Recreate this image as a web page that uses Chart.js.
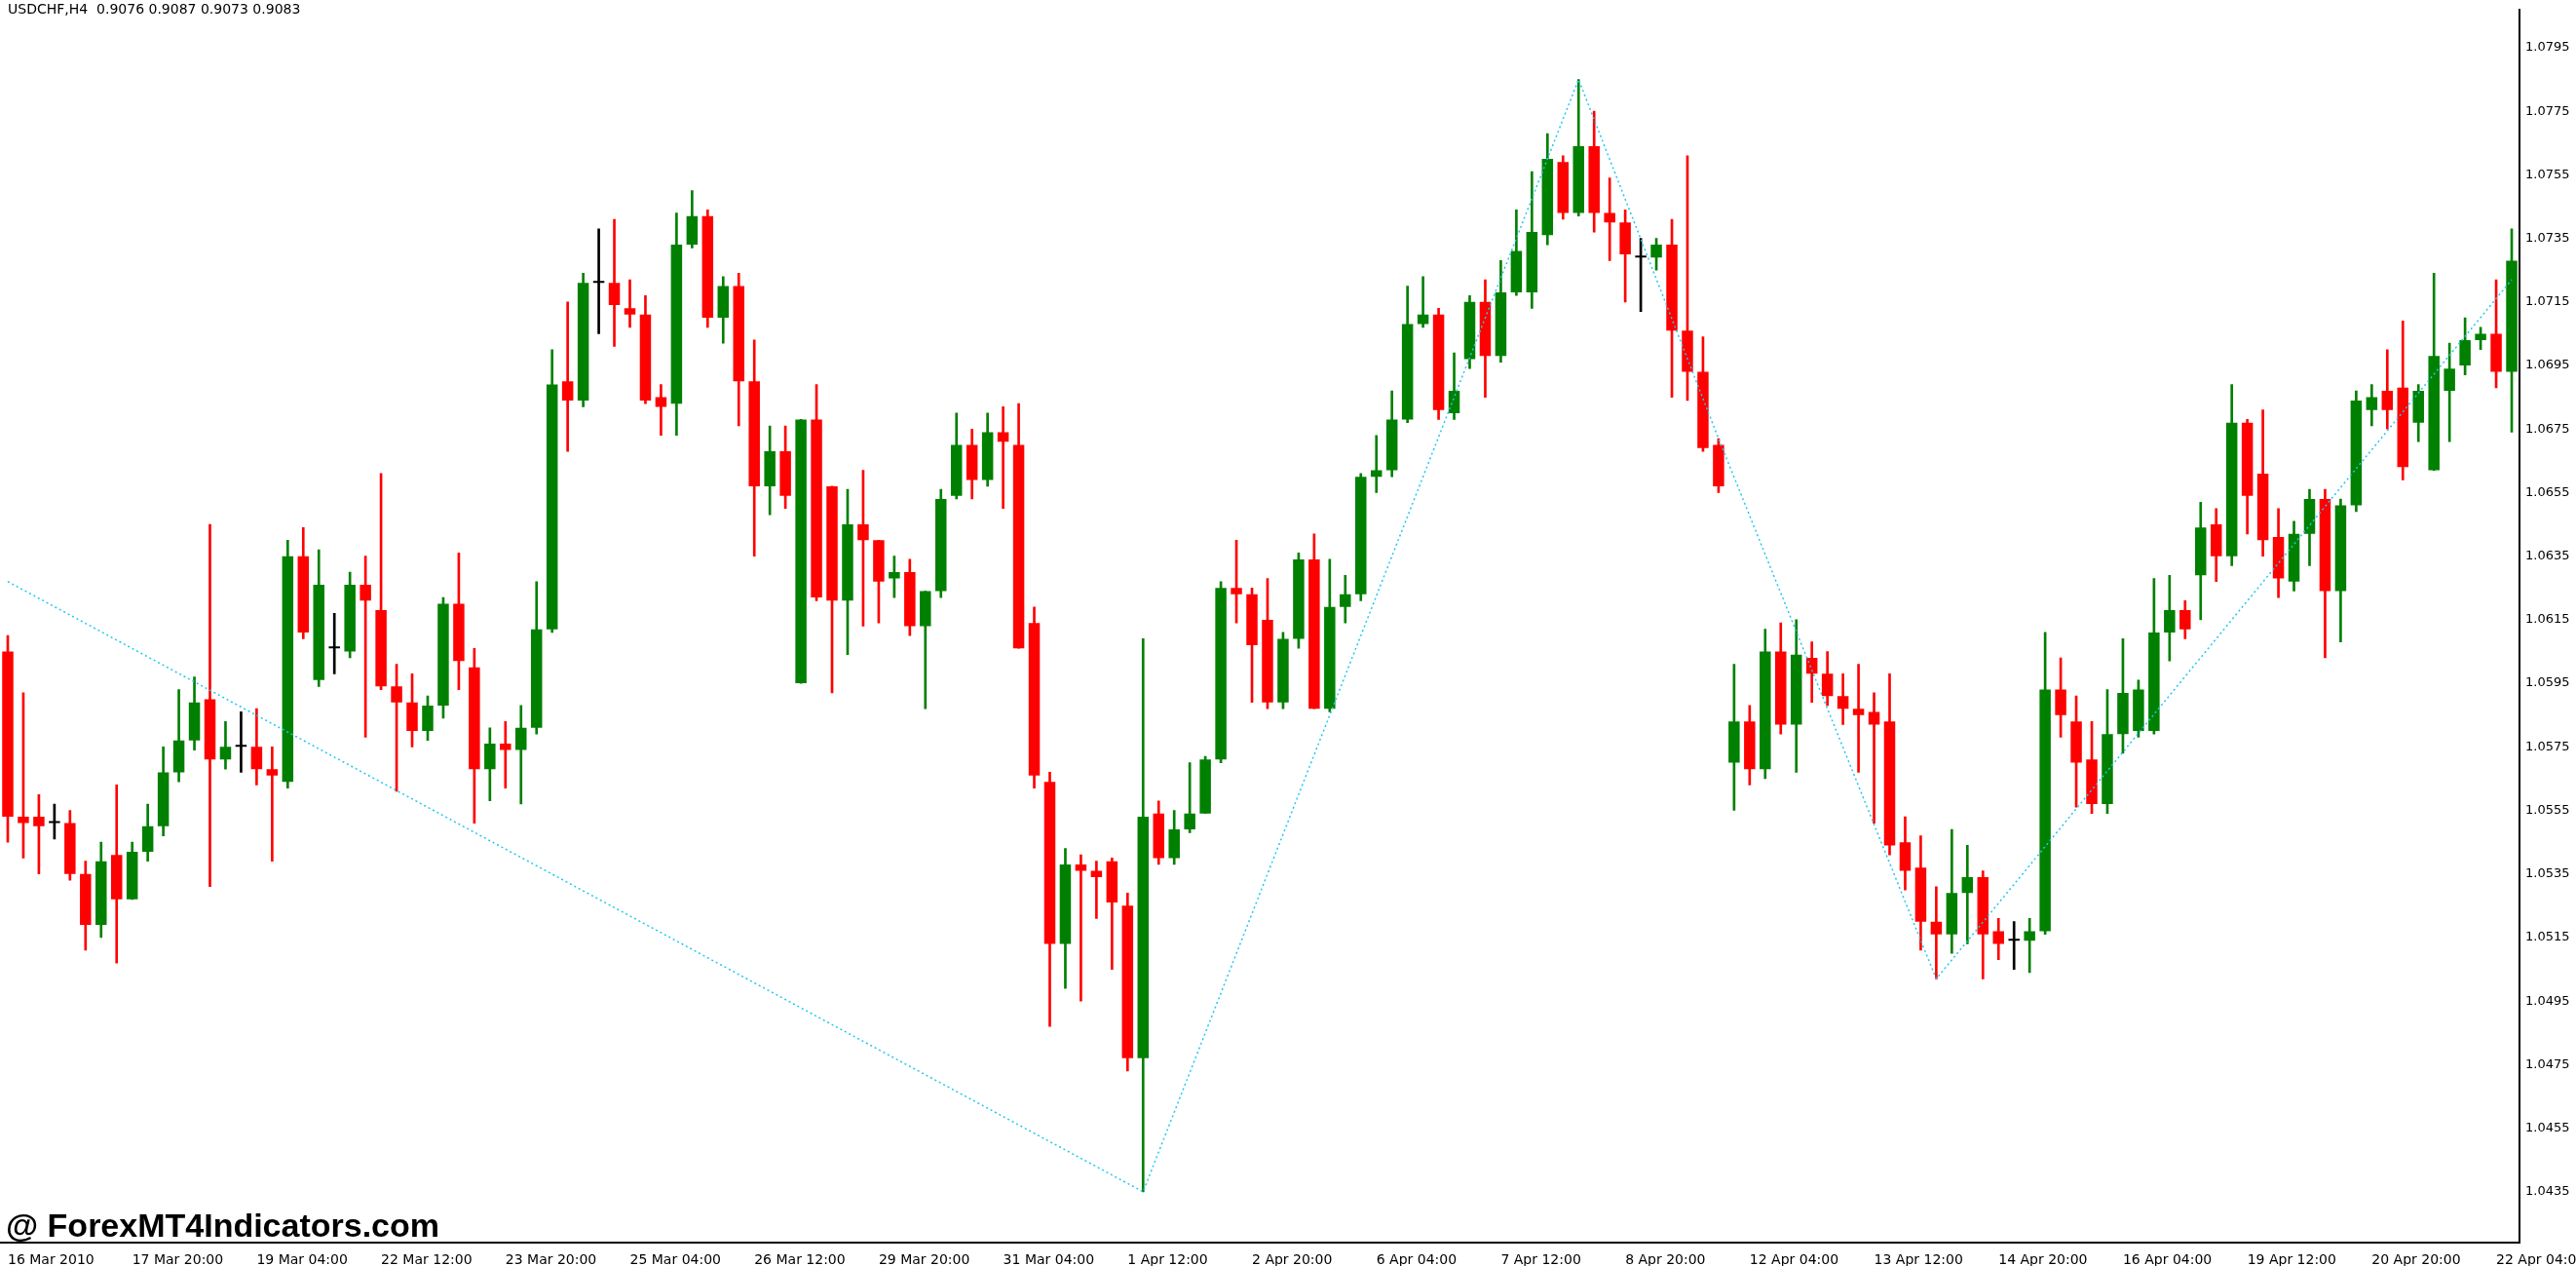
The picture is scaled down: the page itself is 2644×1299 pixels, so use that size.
<!DOCTYPE html>
<html><head><meta charset="utf-8">
<script src="https://cdn.jsdelivr.net/npm/chart.js@4/dist/chart.umd.min.js"></script>
<style>
html,body{margin:0;padding:0;background:#fff;overflow:hidden}
#wrap{position:relative;width:2644px;height:1299px}
#title{position:absolute;left:8px;top:1px;font:14px Tahoma,"DejaVu Sans",sans-serif;color:#000}
#mark{position:absolute;left:6px;top:1238px;font:bold 34px Arial,"Liberation Sans",sans-serif;color:#000}
</style></head><body>
<div id="wrap"><canvas id="c" width="2644" height="1299"></canvas>
<div id="title">USDCHF,H4&nbsp; 0.9076 0.9087 0.9073 0.9083</div>
<div id="mark">@ ForexMT4Indicators.com</div></div>
<script>
const opens=[1.0605,1.0553,1.0553,1.0551,1.0551,1.0535,1.0519,1.0541,1.0527,1.0542,1.0550,1.0567,1.0577,1.0590,1.0571,1.0575,1.0575,1.0568,1.0564,1.0635,1.0596,1.0606,1.0605,1.0626,1.0618,1.0594,1.0589,1.0580,1.0588,1.0620,1.0600,1.0568,1.0576,1.0574,1.0581,1.0612,1.0690,1.0684,1.0721,1.0721,1.0713,1.0711,1.0685,1.0683,1.0733,1.0742,1.0710,1.0720,1.0690,1.0657,1.0668,1.0595,1.0678,1.0657,1.0621,1.0645,1.0640,1.0628,1.0630,1.0613,1.0624,1.0654,1.0670,1.0659,1.0674,1.0670,1.0614,1.0564,1.0513,1.0538,1.0536,1.0539,1.0525,1.0477,1.0554,1.0540,1.0549,1.0554,1.0571,1.0625,1.0623,1.0615,1.0589,1.0609,1.0634,1.0587,1.0619,1.0623,1.0660,1.0662,1.0678,1.0708,1.0711,1.0680,1.0697,1.0715,1.0698,1.0718,1.0718,1.0736,1.0759,1.0743,1.0764,1.0743,1.0740,1.0729,1.0729,1.0733,1.0706,1.0693,1.0670,1.0570,1.0583,1.0568,1.0605,1.0582,1.0603,1.0598,1.0591,1.0587,1.0586,1.0583,1.0545,1.0537,1.0520,1.0516,1.0529,1.0534,1.0517,1.0514,1.0514,1.0517,1.0593,1.0583,1.0571,1.0557,1.0579,1.0580,1.0580,1.0611,1.0618,1.0629,1.0645,1.0635,1.0677,1.0661,1.0641,1.0627,1.0642,1.0653,1.0624,1.0651,1.0681,1.0687,1.0688,1.0677,1.0662,1.0687,1.0695,1.0703,1.0705,1.0693];
const highs=[1.0610,1.0592,1.0560,1.0557,1.0555,1.0539,1.0545,1.0563,1.0545,1.0557,1.0575,1.0593,1.0597,1.0645,1.0583,1.0586,1.0587,1.0575,1.0640,1.0644,1.0637,1.0617,1.0630,1.0635,1.0661,1.0601,1.0598,1.0591,1.0622,1.0636,1.0606,1.0581,1.0583,1.0588,1.0627,1.0700,1.0715,1.0724,1.0738,1.0741,1.0722,1.0717,1.0689,1.0743,1.0750,1.0744,1.0723,1.0724,1.0703,1.0676,1.0676,1.0678,1.0689,1.0657,1.0656,1.0662,1.0640,1.0635,1.0634,1.0624,1.0656,1.0680,1.0675,1.0680,1.0682,1.0683,1.0619,1.0567,1.0543,1.0541,1.0539,1.0540,1.0529,1.0609,1.0558,1.0555,1.0570,1.0572,1.0627,1.0640,1.0625,1.0628,1.0611,1.0636,1.0642,1.0634,1.0629,1.0661,1.0673,1.0687,1.0720,1.0723,1.0713,1.0699,1.0717,1.0722,1.0728,1.0744,1.0756,1.0768,1.0761,1.0785,1.0775,1.0754,1.0744,1.0735,1.0735,1.0741,1.0761,1.0704,1.0672,1.0601,1.0588,1.0612,1.0614,1.0615,1.0608,1.0605,1.0598,1.0601,1.0592,1.0598,1.0553,1.0547,1.0531,1.0549,1.0544,1.0536,1.0521,1.0520,1.0521,1.0611,1.0603,1.0591,1.0583,1.0593,1.0609,1.0596,1.0628,1.0629,1.0621,1.0652,1.0650,1.0689,1.0678,1.0681,1.0650,1.0646,1.0656,1.0656,1.0653,1.0687,1.0689,1.0700,1.0709,1.0689,1.0724,1.0702,1.0710,1.0707,1.0722,1.0738];
const lows=[1.0545,1.0540,1.0535,1.0546,1.0533,1.0511,1.0515,1.0507,1.0527,1.0539,1.0547,1.0564,1.0574,1.0531,1.0568,1.0567,1.0563,1.0539,1.0562,1.0609,1.0594,1.0598,1.0603,1.0578,1.0593,1.0561,1.0575,1.0577,1.0584,1.0593,1.0551,1.0558,1.0562,1.0557,1.0579,1.0611,1.0668,1.0682,1.0705,1.0701,1.0707,1.0683,1.0673,1.0673,1.0732,1.0707,1.0702,1.0676,1.0635,1.0648,1.0650,1.0595,1.0621,1.0592,1.0604,1.0613,1.0614,1.0622,1.0610,1.0587,1.0622,1.0653,1.0653,1.0657,1.0650,1.0606,1.0562,1.0487,1.0499,1.0495,1.0521,1.0505,1.0473,1.0435,1.0538,1.0538,1.0548,1.0554,1.0570,1.0614,1.0589,1.0587,1.0587,1.0606,1.0587,1.0586,1.0614,1.0621,1.0655,1.0660,1.0677,1.0707,1.0678,1.0678,1.0694,1.0685,1.0696,1.0717,1.0713,1.0733,1.0741,1.0742,1.0737,1.0728,1.0715,1.0712,1.0725,1.0685,1.0684,1.0668,1.0655,1.0555,1.0563,1.0565,1.0579,1.0567,1.0589,1.0588,1.0582,1.0567,1.0551,1.0541,1.0530,1.0511,1.0502,1.0510,1.0513,1.0502,1.0508,1.0505,1.0504,1.0516,1.0578,1.0556,1.0554,1.0554,1.0573,1.0578,1.0579,1.0602,1.0609,1.0615,1.0627,1.0632,1.0642,1.0635,1.0622,1.0624,1.0632,1.0603,1.0608,1.0649,1.0676,1.0675,1.0659,1.0671,1.0662,1.0671,1.0692,1.0700,1.0688,1.0674];
const closes=[1.0553,1.0551,1.0550,1.0551,1.0535,1.0519,1.0539,1.0527,1.0542,1.0550,1.0567,1.0577,1.0589,1.0571,1.0575,1.0575,1.0568,1.0566,1.0635,1.0611,1.0626,1.0606,1.0626,1.0621,1.0594,1.0589,1.0580,1.0588,1.0620,1.0602,1.0568,1.0576,1.0574,1.0581,1.0612,1.0689,1.0684,1.0721,1.0721,1.0714,1.0711,1.0684,1.0682,1.0733,1.0742,1.0710,1.0720,1.0690,1.0657,1.0668,1.0654,1.0678,1.0622,1.0621,1.0645,1.0640,1.0627,1.0630,1.0613,1.0624,1.0653,1.0670,1.0659,1.0674,1.0671,1.0606,1.0566,1.0513,1.0538,1.0536,1.0534,1.0526,1.0477,1.0553,1.0540,1.0549,1.0554,1.0571,1.0625,1.0623,1.0607,1.0589,1.0609,1.0634,1.0587,1.0619,1.0623,1.0660,1.0662,1.0678,1.0708,1.0711,1.0681,1.0687,1.0715,1.0698,1.0718,1.0731,1.0737,1.0760,1.0743,1.0764,1.0743,1.0740,1.0730,1.0729,1.0733,1.0706,1.0693,1.0669,1.0657,1.0583,1.0568,1.0605,1.0582,1.0604,1.0598,1.0591,1.0587,1.0585,1.0582,1.0544,1.0536,1.0520,1.0516,1.0529,1.0534,1.0516,1.0513,1.0514,1.0517,1.0593,1.0585,1.0570,1.0557,1.0579,1.0592,1.0593,1.0611,1.0618,1.0612,1.0644,1.0635,1.0677,1.0654,1.0640,1.0628,1.0642,1.0653,1.0624,1.0651,1.0684,1.0685,1.0681,1.0663,1.0687,1.0698,1.0694,1.0703,1.0705,1.0693,1.0728];
const tickLabels=["16 Mar 2010","17 Mar 20:00","19 Mar 04:00","22 Mar 12:00","23 Mar 20:00","25 Mar 04:00","26 Mar 12:00","29 Mar 20:00","31 Mar 04:00","1 Apr 12:00","2 Apr 20:00","6 Apr 04:00","7 Apr 12:00","8 Apr 20:00","12 Apr 04:00","13 Apr 12:00","14 Apr 20:00","16 Apr 04:00","19 Apr 12:00","20 Apr 20:00","22 Apr 04:00"];
const zigIdx=[0,73,101,110,124,161];
const zigVal=[1.0627,1.0435,1.0785,1.0672,1.0502,1.0722];
const yTicks=[1.0435,1.0455,1.0475,1.0495,1.0515,1.0535,1.0555,1.0575,1.0595,1.0615,1.0635,1.0655,1.0675,1.0695,1.0715,1.0735,1.0755,1.0775,1.0795];

const n=opens.length;
const labels=opens.map((_,i)=>i);
const col=opens.map((o,i)=>closes[i]>o?'#008000':(closes[i]<o?'#ff0000':'#000000'));
const zig=new Array(n).fill(null); zigIdx.forEach((k,j)=>zig[k]=zigVal[j]);

new Chart(document.getElementById('c'),{
 data:{labels,datasets:[
  {type:'line',data:zig,spanGaps:true,borderColor:'#1ec8f0',borderWidth:1.5,borderDash:[2,3],pointRadius:0,order:0},
  {type:'bar',data:opens.map((o,i)=>[o,closes[i]]),backgroundColor:col,barPercentage:1,categoryPercentage:0.72,minBarLength:2,grouped:false,order:1},
  {type:'bar',data:lows.map((l,i)=>[l,highs[i]]),backgroundColor:col,barThickness:2,grouped:false,order:2}
 ]},
 options:{responsive:false,devicePixelRatio:1,animation:false,
  layout:{padding:{top:0,left:0,right:0,bottom:0}},
  plugins:{legend:{display:false},tooltip:{enabled:false}},
  scales:{
   x:{type:'category',offset:true,grid:{display:false,drawTicks:true},border:{display:true,color:'#000',width:2},
      ticks:{autoSkip:false,maxRotation:0,align:'start',color:'#000',font:{size:14,family:'Tahoma, DejaVu Sans'},padding:2,
        callback:(v,i)=> i%8===0 ? (tickLabels[i/8]||'') : ''},
      afterFit:s=>{s.height=24;}},
   y:{position:'right',min:1.0419,max:1.0807,grid:{display:false,tickLength:4},border:{display:true,color:'#000',width:2},
      afterBuildTicks:s=>{s.ticks=yTicks.map(v=>({value:v}));},
      ticks:{color:'#000',font:{size:13,family:'Tahoma, DejaVu Sans'},padding:2,callback:v=>Number(v).toFixed(4)},
      afterFit:s=>{s.width=58;}}
  }}
});
</script></body></html>
